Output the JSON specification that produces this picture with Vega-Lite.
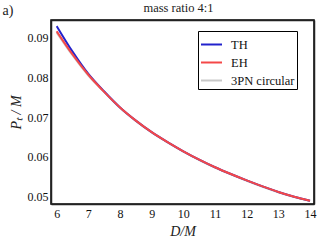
{
  "$schema": "https://vega.github.io/schema/vega-lite/v6.json",
  "width": 263,
  "height": 184,
  "autosize": {"type": "none"},
  "padding": {"left": 51, "top": 20, "right": 12, "bottom": 40},
  "background": "white",
  "config": {
    "font": "Liberation Serif",
    "view": {"stroke": "black", "strokeWidth": 1.5},
    "axis": {"labelFont": "Liberation Serif", "titleFont": "Liberation Serif", "labelColor": "#111", "titleColor": "#222", "domainColor": "#222", "tickColor": "#222", "grid": false},
    "legend": {"labelFont": "Liberation Serif"}
  },
  "data": {"values": [
    {"D": 6, "Pt": 0.0912, "series": "3PN circular"},
    {"D": 6.5, "Pt": 0.0855, "series": "3PN circular"},
    {"D": 7, "Pt": 0.0804, "series": "3PN circular"},
    {"D": 7.5, "Pt": 0.0763, "series": "3PN circular"},
    {"D": 8, "Pt": 0.0723, "series": "3PN circular"},
    {"D": 8.5, "Pt": 0.0690, "series": "3PN circular"},
    {"D": 9, "Pt": 0.0661, "series": "3PN circular"},
    {"D": 9.5, "Pt": 0.0636, "series": "3PN circular"},
    {"D": 10, "Pt": 0.0613, "series": "3PN circular"},
    {"D": 10.5, "Pt": 0.0592, "series": "3PN circular"},
    {"D": 11, "Pt": 0.0573, "series": "3PN circular"},
    {"D": 11.5, "Pt": 0.0556, "series": "3PN circular"},
    {"D": 12, "Pt": 0.0540, "series": "3PN circular"},
    {"D": 12.5, "Pt": 0.0525, "series": "3PN circular"},
    {"D": 13, "Pt": 0.0511, "series": "3PN circular"},
    {"D": 13.5, "Pt": 0.0499, "series": "3PN circular"},
    {"D": 14, "Pt": 0.0489, "series": "3PN circular"},
    {"D": 6, "Pt": 0.0928, "series": "TH"},
    {"D": 6.5, "Pt": 0.0864, "series": "TH"},
    {"D": 7, "Pt": 0.0808, "series": "TH"},
    {"D": 7.5, "Pt": 0.0764, "series": "TH"},
    {"D": 8, "Pt": 0.0724, "series": "TH"},
    {"D": 8.5, "Pt": 0.0691, "series": "TH"},
    {"D": 9, "Pt": 0.0662, "series": "TH"},
    {"D": 9.5, "Pt": 0.0637, "series": "TH"},
    {"D": 10, "Pt": 0.0614, "series": "TH"},
    {"D": 10.5, "Pt": 0.0593, "series": "TH"},
    {"D": 11, "Pt": 0.0574, "series": "TH"},
    {"D": 11.5, "Pt": 0.0557, "series": "TH"},
    {"D": 12, "Pt": 0.0541, "series": "TH"},
    {"D": 12.5, "Pt": 0.0526, "series": "TH"},
    {"D": 13, "Pt": 0.0512, "series": "TH"},
    {"D": 13.5, "Pt": 0.0500, "series": "TH"},
    {"D": 14, "Pt": 0.0490, "series": "TH"},
    {"D": 6, "Pt": 0.0915, "series": "EH"},
    {"D": 6.5, "Pt": 0.0857, "series": "EH"},
    {"D": 7, "Pt": 0.0806, "series": "EH"},
    {"D": 7.5, "Pt": 0.0763, "series": "EH"},
    {"D": 8, "Pt": 0.0724, "series": "EH"},
    {"D": 8.5, "Pt": 0.0691, "series": "EH"},
    {"D": 9, "Pt": 0.0662, "series": "EH"},
    {"D": 9.5, "Pt": 0.0637, "series": "EH"},
    {"D": 10, "Pt": 0.0614, "series": "EH"},
    {"D": 10.5, "Pt": 0.0593, "series": "EH"},
    {"D": 11, "Pt": 0.0574, "series": "EH"},
    {"D": 11.5, "Pt": 0.0557, "series": "EH"},
    {"D": 12, "Pt": 0.0541, "series": "EH"},
    {"D": 12.5, "Pt": 0.0526, "series": "EH"},
    {"D": 13, "Pt": 0.0512, "series": "EH"},
    {"D": 13.5, "Pt": 0.0500, "series": "EH"},
    {"D": 14, "Pt": 0.0490, "series": "EH"}
  ]},
  "resolve": {"axis": {"x": "independent", "y": "independent"}},
  "layer": [
    {
      "mark": {"type": "line", "strokeWidth": 2, "interpolate": "monotone", "clip": true},
      "encoding": {
        "x": {"field": "D", "type": "quantitative",
          "scale": {"domain": [5.82, 14.126], "nice": false, "zero": false},
          "axis": {"orient": "bottom", "title": "D/M", "titleFontStyle": "italic", "titleFontWeight": "normal", "titleFontSize": 14, "titlePadding": 5,
            "values": [6, 6.5, 7, 7.5, 8, 8.5, 9, 9.5, 10, 10.5, 11, 11.5, 12, 12.5, 13, 13.5, 14],
            "labelExpr": "datum.value % 1 === 0 ? datum.label : ''", "format": "d",
            "labelFontSize": 12, "labelPadding": 4, "labelFlush": false, "labelOverlap": false, "tickSize": 0, "domainWidth": 1.5,
            "encode": {"ticks": {"update": {"y2": {"signal": "datum.value % 1 === 0 ? -5 : -3"}, "strokeWidth": {"value": 1.2}}}}}},
        "y": {"field": "Pt", "type": "quantitative",
          "scale": {"domain": [0.04817, 0.09434], "nice": false, "zero": false},
          "axis": {"orient": "left", "title": "Pₜ / M", "titleFontStyle": "italic", "titleFontWeight": "normal", "titleFontSize": 14, "titlePadding": 4,
            "values": [0.05, 0.055, 0.06, 0.065, 0.07, 0.075, 0.08, 0.085, 0.09],
            "labelExpr": "round(datum.value * 1000) % 10 === 0 ? format(datum.value, '.2f') : ''",
            "labelFontSize": 12, "labelPadding": 3, "labelFlush": false, "labelOverlap": false, "tickSize": 0, "domainWidth": 1.5,
            "encode": {"ticks": {"update": {"x2": {"signal": "round(datum.value * 1000) % 10 === 0 ? 5 : 3"}, "strokeWidth": {"value": 1.2}}}}}},
        "color": {"field": "series", "type": "nominal",
          "scale": {"domain": ["TH", "EH", "3PN circular"], "range": ["#2222cc", "#f44848", "#c8c8c8"]},
          "legend": {"title": null, "orient": "none", "legendX": 147, "legendY": 11,
            "symbolType": "stroke", "symbolSize": 441, "symbolStrokeWidth": 2, "symbolOffset": 0,
            "labelFontSize": 12.5, "labelColor": "#111", "labelOffset": 8,
            "rowPadding": 0, "padding": 2, "strokeColor": "black", "fillColor": "white"}}
      }
    },
    {
      "mark": {"type": "line", "opacity": 0},
      "encoding": {
        "x": {"field": "D", "type": "quantitative",
          "axis": {"orient": "top", "title": "mass ratio 4:1", "titleFontWeight": "normal", "titleFontSize": 12.5, "titlePadding": 5, "titleX": 127, "titleColor": "#222",
            "values": [6, 6.5, 7, 7.5, 8, 8.5, 9, 9.5, 10, 10.5, 11, 11.5, 12, 12.5, 13, 13.5, 14],
            "labels": false, "tickSize": 0, "domainWidth": 1.5,
            "encode": {"ticks": {"update": {"y2": {"signal": "datum.value % 1 === 0 ? 5 : 3"}, "strokeWidth": {"value": 1.2}}}}}},
        "y": {"field": "Pt", "type": "quantitative",
          "axis": {"orient": "right", "title": "a)", "titleAngle": 0, "titleFontWeight": "normal", "titleFontSize": 14, "titleX": -312, "titleY": -6, "titleAlign": "left", "titleBaseline": "alphabetic",
            "values": [0.05, 0.055, 0.06, 0.065, 0.07, 0.075, 0.08, 0.085, 0.09],
            "labels": false, "tickSize": 0, "domainWidth": 1.5,
            "encode": {"ticks": {"update": {"x2": {"signal": "round(datum.value * 1000) % 10 === 0 ? -5 : -3"}, "strokeWidth": {"value": 1.2}}}}}},
        "detail": {"field": "series", "type": "nominal"}
      }
    }
  ]
}
